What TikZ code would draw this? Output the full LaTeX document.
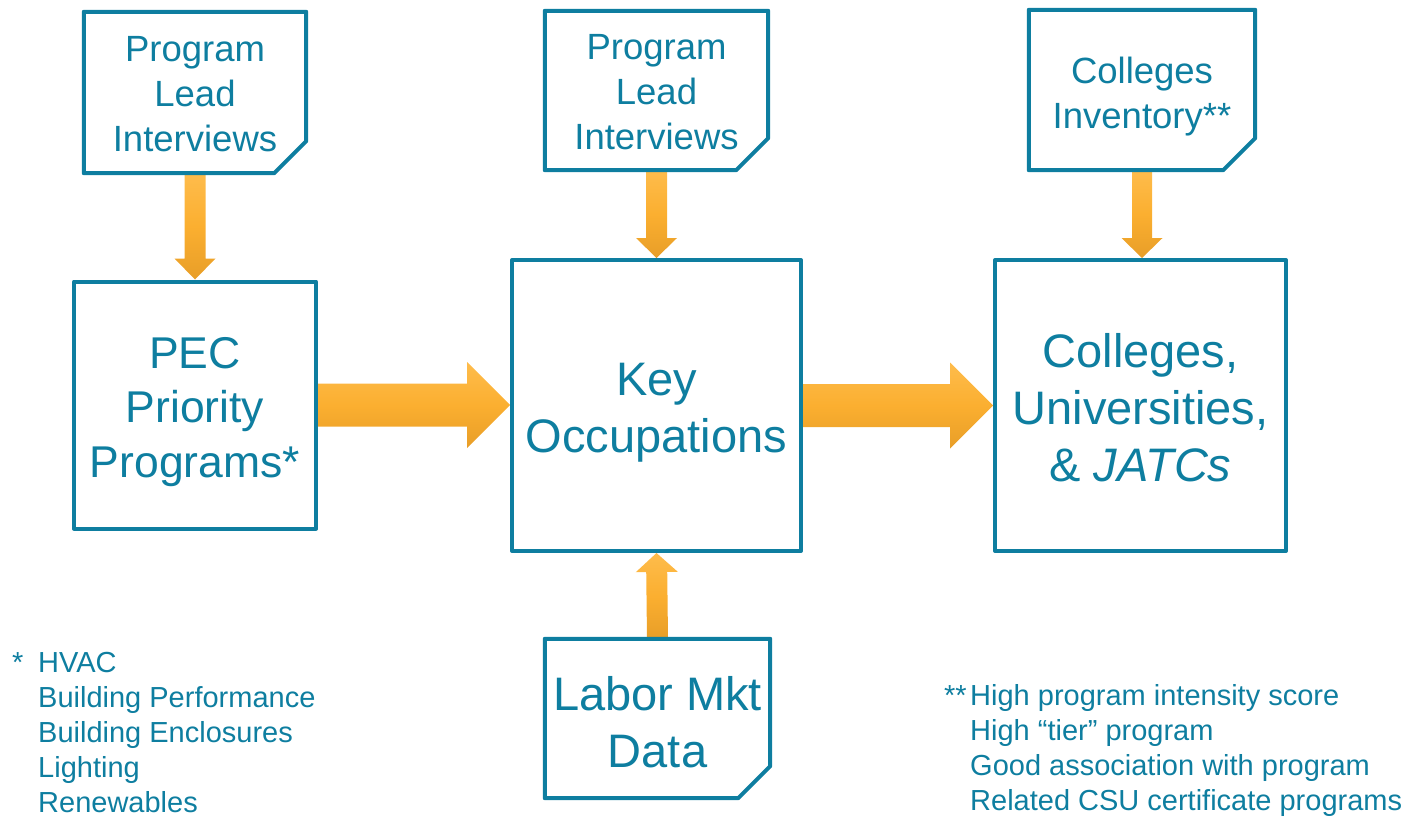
\documentclass[tikz,border=0pt]{standalone}
\usepackage{fontspec}
\setmainfont{Liberation Sans}
\usetikzlibrary{calc}
\definecolor{pecteal}{RGB}{14,126,160}
\definecolor{arrowtop}{RGB}{254,188,76}
\definecolor{arrowmid}{RGB}{251,175,48}
\definecolor{arrowbot}{RGB}{232,158,40}
\pgfdeclarelayer{back}
\pgfsetlayers{back,main}
\tikzset{
	plainbox/.style={draw=pecteal, line width=4pt, line join=round, fill=white, inner sep=0pt},
	docbox/.style={draw=none, inner sep=0pt},
	docline/.style={draw=pecteal, line width=4pt, line join=round},
	boxtext/.style={text=pecteal, align=center, inner sep=0pt},
	orangefill/.style={draw=none, top color=arrowtop, bottom color=arrowbot, middle color=arrowmid},
	notetext/.style={text=pecteal, inner sep=0pt, anchor=base west, font=\fontsize{29}{35.2}\selectfont},
}
\def\docoutline(#1){\draw[docline] (#1.north west) -- (#1.north east) -- ($(#1.south east)+(0,-32)$) -- ($(#1.south east)+(-32,0)$) -- (#1.south west) -- cycle;}
\def\fatarrow[#1](#2)(#3)(#4:#5:#6){\coordinate (ah) at ($(#3)!#6!(#2)$);
	\shade[#1] ($(#2)!#4!90:(#3)$) -- ($(ah)!#4!90:(#3)$) -- ($(ah)!#5!90:(#3)$) -- (#3) -- ($(ah)!#5!-90:(#3)$) -- ($(ah)!#4!-90:(#3)$) -- ($(#2)!#4!-90:(#3)$) -- cycle;}

\begin{document}
\begin{tikzpicture}[x=1pt, y=-1pt]
			%%%%% START %%%%%
			\useasboundingbox (0, 0) rectangle (1413, 819);
			
			\node[docbox, minimum width=222pt, minimum height=161pt] (pli1) at (195, 92.5) {};
			\node[docbox, minimum width=223pt, minimum height=159pt] (pli2) at (656.5, 90.5) {};
			\node[docbox, minimum width=226pt, minimum height=160pt] (inv) at (1142, 90) {};
			\node[docbox, minimum width=225pt, minimum height=159pt] (lmd) at (657.5, 718.5) {};
			\docoutline(pli1)
			\docoutline(pli2)
			\docoutline(inv)
			\docoutline(lmd)
			
			\node[plainbox, minimum width=242pt, minimum height=247pt] (pec) at (195, 405) {};
			\node[plainbox, minimum width=289pt, minimum height=291pt] (key) at (656.5, 405.5) {};
			\node[plainbox, minimum width=291pt, minimum height=291pt] (col) at (1140.5, 405.5) {};
			
			\node[boxtext, font=\fontsize{36.5}{45}\selectfont] (pli1text) at ($(pli1.center)+(0, 1.5)$) {Program\\Lead\\Interviews};
			\node[boxtext, font=\fontsize{36.5}{45}\selectfont] (pli2text) at ($(pli2.center)+(0, 1.5)$) {Program\\Lead\\Interviews};
			\node[boxtext, font=\fontsize{36.5}{45}\selectfont] (invtext) at ($(inv.center)+(0, 6.5)$) {Colleges\\Inventory**};
			\node[boxtext, font=\fontsize{44.5}{54.5}\selectfont] (pectext) at ($(pec.center)+(0, 7)$) {PEC\\Priority\\Programs*};
			\node[boxtext, font=\fontsize{47}{57}\selectfont] (keytext) at ($(key.center)+(0, 7)$) {Key\\Occupations};
			\node[boxtext, font=\fontsize{47}{57}\selectfont] (coltext) at ($(col.center)+(0, 2.5)$) {Colleges,\\Universities,\\\& \textit{JATCs}};
			\node[boxtext, font=\fontsize{47}{57}\selectfont] (lmdtext) at ($(lmd.center)+(0, 3.5)$) {Labor Mkt\\Data};
			
			\begin{pgfonlayer}{back}
			\fatarrow[orangefill](pli1.south)(pec.north)(10.5pt:20.5pt:21pt)
			\fatarrow[orangefill](pli2.south)(key.north)(10.5pt:20.5pt:20pt)
			\fatarrow[orangefill](inv.south)(inv.south |- col.north)(10pt:20.5pt:20pt)
			\fatarrow[orangefill](lmd.north)(key.south)(10.5pt:21pt:19pt)
			\fatarrow[orangefill](pec.east)(pec.east -| key.west)(21.5pt:43pt:43pt)
			\fatarrow[orangefill](key.east)(col.west)(21.5pt:43pt:43pt)
			\end{pgfonlayer}
			
			\node[notetext] (pecnote) at (12, 672) {\begin{tabular}[t]{@{}p{26pt}@{}l@{}}*&HVAC\\&Building Performance\\&Building Enclosures\\&Lighting\\&Renewables\end{tabular}};
			\node[notetext] (invnote) at (944, 705) {\begin{tabular}[t]{@{}p{26pt}@{}l@{}}**&High program intensity score\\&High “tier” program\\&Good association with program\\&Related CSU certificate programs\end{tabular}};
			
			%%%%% END %%%%%
\end{tikzpicture}
\end{document}
